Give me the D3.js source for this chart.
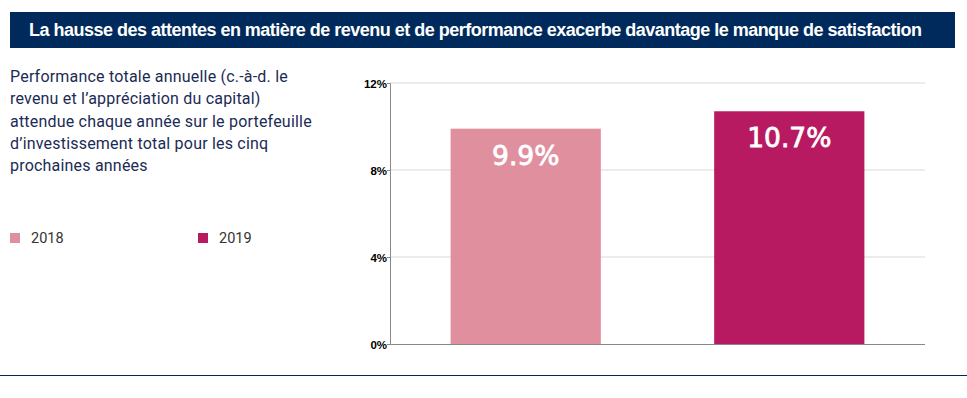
<!DOCTYPE html>
<html>
<head>
<meta charset="utf-8">
<script src="https://cdn.jsdelivr.net/npm/d3@7"></script>
<style>
  body { margin: 0; background: #fff; }
  svg { display: block; }
</style>
</head>
<body>
<svg id="chart"></svg>
<script>
// data
var years = ["2018", "2019"];
var values = [9.9, 10.7];
var colors = ["#e08f9f", "#b71a61"];
var ticks = [0, 4, 8, 12];
var titleText = "La hausse des attentes en matière de revenu et de performance exacerbe davantage le manque de satisfaction";
var descLines = [
  "Performance totale annuelle (c.-à-d. le",
  "revenu et l\u2019appréciation du capital)",
  "attendue chaque année sur le portefeuille",
  "d\u2019investissement total pour les cinq",
  "prochaines années"
];

var width = 967, height = 398;
var svg = d3.select("#chart").attr("width", width).attr("height", height);

// title bar
svg.append("rect")
  .attr("x", 10).attr("y", 12)
  .attr("width", 945).attr("height", 36)
  .attr("fill", "#002a5c");
svg.append("text")
  .attr("x", 29).attr("y", 36)
  .attr("fill", "#fff")
  .attr("font-family", "Liberation Sans Narrow, Arial Narrow, sans-serif")
  .attr("font-weight", "bold")
  .attr("font-size", 18)
  .attr("textLength", 893)
  .text(titleText);

// description
var desc = svg.append("text")
  .attr("font-family", "Roboto, sans-serif")
  .attr("font-size", 16)
  .attr("letter-spacing", 0.2)
  .attr("fill", "#1b2b55");
descLines.forEach(function(l, i) {
  desc.append("tspan").attr("x", 10).attr("y", 82 + i * 22.3).text(l);
});

// legend
var leg = svg.append("g").selectAll("g").data(years).join("g")
  .attr("transform", function(d, i) { return "translate(" + (10 + i * 188) + ",233)"; });
leg.append("rect").attr("width", 10).attr("height", 10)
  .attr("fill", function(d, i) { return colors[i]; });
leg.append("text").attr("x", 21).attr("y", 10)
  .attr("font-family", "Roboto, sans-serif").attr("font-size", 14.5)
  .attr("fill", "#333").text(function(d) { return d; });

// chart
var x0 = 390, x1 = 925, y0 = 344, y1 = 83;
var y = d3.scaleLinear().domain([0, 12]).range([y0, y1]);
var x = d3.scaleBand().domain(years).range([x0, x1]).paddingInner(0.43).paddingOuter(0.23);

svg.append("g").selectAll("line").data(ticks.slice(1)).join("line")
  .attr("x1", x0).attr("x2", x1)
  .attr("y1", function(d) { return y(d); }).attr("y2", function(d) { return y(d); })
  .attr("stroke", "#d9d9d9").attr("stroke-width", 1);

var yAxis = svg.append("g")
  .attr("transform", "translate(" + x0 + ",0)")
  .call(d3.axisLeft(y).tickValues(ticks).tickSize(3).tickFormat(function(d) { return d + "%"; }));
yAxis.select(".domain").attr("stroke", "#888");
yAxis.selectAll(".tick line").attr("stroke", "#888");
yAxis.selectAll(".tick text")
  .attr("font-family", "Liberation Sans, Arial, sans-serif")
  .attr("font-weight", "bold").attr("font-size", 11.5).attr("fill", "#000")
  .attr("x", -3).attr("dy", "0.4em");

svg.append("g").selectAll("rect").data(values).join("rect")
  .attr("x", function(d, i) { return x(years[i]); })
  .attr("width", x.bandwidth())
  .attr("y", function(d) { return y(d); })
  .attr("height", function(d) { return y0 - y(d); })
  .attr("fill", function(d, i) { return colors[i]; });

svg.append("line")
  .attr("x1", x0).attr("x2", x1).attr("y1", y0 + 0.5).attr("y2", y0 + 0.5)
  .attr("stroke", "#888");

svg.append("g").selectAll("text").data(values).join("text")
  .attr("x", function(d, i) { return x(years[i]) + x.bandwidth() / 2; })
  .attr("y", function(d) { return y(d) + 36; })
  .attr("text-anchor", "middle")
  .attr("font-family", "DejaVu Sans, sans-serif")
  .attr("font-size", 26.5).attr("fill", "#fff")
  .attr("stroke", "#fff").attr("stroke-width", 0.8)
  .text(function(d) { return d.toFixed(1) + "%"; });

// bottom rule
svg.append("line")
  .attr("x1", 0).attr("x2", width).attr("y1", 375.5).attr("y2", 375.5)
  .attr("stroke", "#002a5c").attr("stroke-width", 1);
</script>
</body>
</html>
